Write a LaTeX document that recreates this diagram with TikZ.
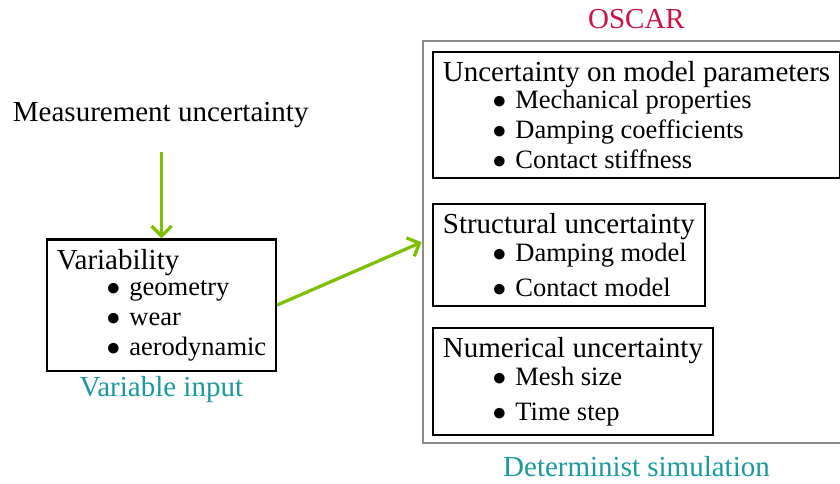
\documentclass[tikz,border=0pt]{standalone}
\usepackage{fontspec}
\setmainfont{Liberation Serif}
\usetikzlibrary{arrows.meta, positioning}
\definecolor{cgreen}{HTML}{7DC000}
\definecolor{cteal}{HTML}{1A9AA0}
\definecolor{ccrimson}{HTML}{CC1144}
\definecolor{cgrey}{HTML}{8C8C8C}
\newcommand{\itm}[1]{{\fontsize{10.6}{13.92}\selectfont\makebox[29pt][l]{\hspace{19.9pt}$\bullet$}#1}}
\tikzset{
  every picture/.style={font=\fontsize{11.6}{13.92}\selectfont},
  box/.style={draw=black, line width=0.9pt, align=left, inner xsep=3.9pt, inner ysep=3.8pt, anchor=north west},
  arrow/.style={-{Straight Barb[length=4pt, width=8pt]}, draw=cgreen, line width=1.3pt},
  caption/.style={text=cteal, anchor=base},
}
\begin{document}
\begin{tikzpicture}[x=0.4pt, y=-0.4pt]
  \useasboundingbox (0,0) rectangle (840,483);
  % input side
  \node (meas) [anchor=base] at (160.7,121.7) {Measurement uncertainty};
  \node (var) [box] at (46,238.3) {Variability\\[-3.2pt]
    \itm{geometry}\\[-2pt]
    \itm{wear}\\[-2pt]
    \itm{aerodynamic}};
  \node (varlbl) [caption] at (161.3,396.7) {Variable input};
  % simulation side
  \node (sim) [draw=cgrey, line width=0.9pt, inner sep=0pt, minimum width=171pt, minimum height=160.9pt] at (636.5,242.2) {};
  \node (oscar) [text=ccrimson, anchor=base] at (636.5,28.3) {OSCAR};
  \node (simlbl) [caption] at (636.5,476.7) {Determinist simulation};
  \node (param) [box] at (432,50.7) {Uncertainty on model parameters\\[-3pt]
    \itm{Mechanical properties}\\[-2pt]
    \itm{Damping coefficients}\\[-2pt]
    \itm{Contact stiffness}};
  \node (struct) [box] at (432,202.7) {Structural uncertainty\\[-2.8pt]
    \itm{Damping model}\\
    \itm{Contact model}};
  \node (num) [box] at (432,326.7) {Numerical uncertainty\\[-2.8pt]
    \itm{Mesh size}\\
    \itm{Time step}};
  % connectors
  \draw[arrow, shorten <=6pt] (var.north |- meas.south) -- (var.north);
  \draw[arrow] (var.east) -- (sim.west);
\end{tikzpicture}
\end{document}
